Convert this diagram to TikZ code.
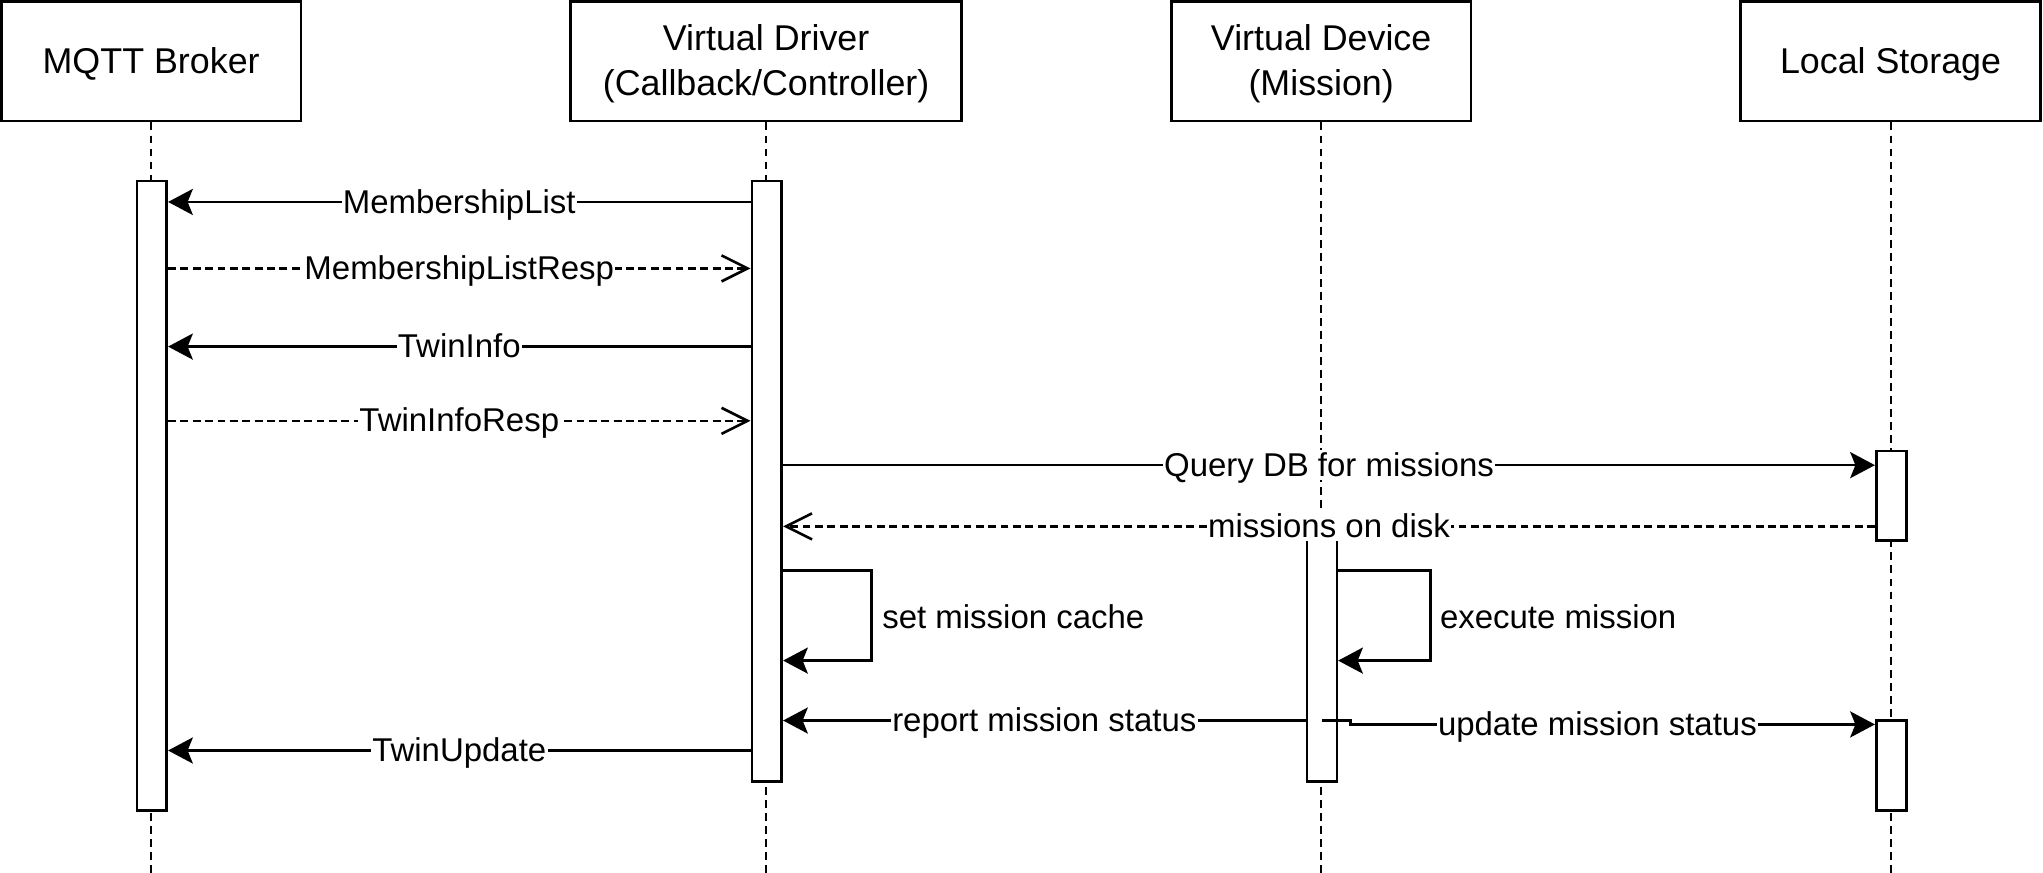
\documentclass[tikz,border=0pt]{standalone}
\usepackage{fontspec}
\setmainfont{Liberation Sans}
\usetikzlibrary{arrows.meta}
\begin{document}
\begin{tikzpicture}[x=1pt,y=-1pt,
  head/.style={draw, line width=2pt, minimum height=92pt, inner sep=0pt},
  headtxt/.style={align=center, inner sep=0pt, font=\fontsize{27.5}{34}\selectfont},
  life/.style={line width=1.5pt, dash pattern=on 6pt off 4pt},
  actbox/.style={draw, fill=white, line width=2pt, minimum width=23pt, inner sep=0pt},
  msg/.style={line width=2pt, -{Stealth[length=19pt,width=20pt,inset=4pt]}},
  reply/.style={line width=2pt, dash pattern=on 6pt off 3.5pt, -{Straight Barb[length=20pt,width=20pt,line width=2pt]}},
  lbl/.style={fill=white, inner xsep=1pt, inner ysep=0pt, text height=20pt, text depth=3pt,
    font=\fontsize{25.3}{30}\selectfont},
  sidelbl/.style={anchor=west, inner sep=0pt, font=\fontsize{25.3}{30}\selectfont}]
\useasboundingbox (0,0) rectangle (1568,670);
% headers
\node[head, minimum width=230pt] (mqtt) at (116,47) {};
\node[head, minimum width=300pt] (driver) at (588,47) {};
\node[head, minimum width=230pt] (device) at (1014,47) {};
\node[head, minimum width=230pt] (storage) at (1451,47) {};
\node[headtxt] (mqttT) at ([yshift=-2pt]mqtt.center) {MQTT Broker};
\node[headtxt] (driverT) at ([yshift=-2pt]driver.center) {Virtual Driver\\(Callback/Controller)};
\node[headtxt] (deviceT) at ([yshift=-2pt]device.center) {Virtual Device\\(Mission)};
\node[headtxt] (storageT) at ([yshift=-2pt]storage.center) {Local Storage};
% lifeline ends
\coordinate (mqttEnd) at (116,672);
\coordinate (driverEnd) at (588,672);
\coordinate (deviceEnd) at (1014,672);
\coordinate (storageEnd) at (1451,672);
\draw[life] (mqtt.south) -- (mqttEnd);
\draw[life] (driver.south) -- (driverEnd);
\draw[life] (device.south) -- (deviceEnd);
\draw[life] (storage.south) -- (storageEnd);
% activations
\node[actbox, minimum height=483pt] (actM) at (116.5,380.5) {};
\node[actbox, minimum height=461pt] (actD) at (588.5,369.5) {};
\node[actbox, minimum height=188pt] (actV) at (1014.5,506) {};
\node[actbox, minimum height=69pt] (actS1) at (1451.5,380.5) {};
\node[actbox, minimum height=69pt] (actS2) at (1451.5,587.5) {};
% message rows
\coordinate (r1) at (0,155);
\coordinate (r2) at (0,206);
\coordinate (r3) at (0,266);
\coordinate (r4) at (0,323);
\coordinate (r5) at (0,357);
\coordinate (r6) at (0,404);
\coordinate (r7a) at (0,438);
\coordinate (r7b) at (0,507);
\coordinate (r8) at (0,553);
\coordinate (r8b) at (0,556);
\coordinate (r9) at (0,576);
\draw[msg] (actD.west |- r1) -- node[lbl] {MembershipList} (actM.east |- r1);
\draw[reply] (actM.east |- r2) -- node[lbl] {MembershipListResp} (actD.west |- r2);
\draw[msg] (actD.west |- r3) -- node[lbl] {TwinInfo} (actM.east |- r3);
\draw[reply] (actM.east |- r4) -- node[lbl] {TwinInfoResp} (actD.west |- r4);
\draw[msg] (actD.east |- r5) -- node[lbl] {Query DB for missions} (actS1.west |- r5);
\draw[reply] (actS1.west |- r6) -- node[lbl] {missions on disk} (actD.east |- r6);
% self calls
\draw[msg] (actD.east |- r7a) -- ++(68,0) |- (actD.east |- r7b);
\node[sidelbl] (cacheLbl) at (677,473) {set mission cache};
\draw[msg] (actV.east |- r7a) -- ++(71,0) |- (actV.east |- r7b);
\node[sidelbl] (execLbl) at (1105,473) {execute mission};
% status
\draw[msg] (actV.west |- r8) -- node[lbl] {report mission status} (actD.east |- r8);
\draw[msg] (actV.center |- r8) -- ++(22,0) -- ++(0,3) -- (actS2.west |- r8b);
\node[lbl] (updLbl) at (1226,556) {update mission status};
\draw[msg] (actD.west |- r9) -- node[lbl] {TwinUpdate} (actM.east |- r9);
\end{tikzpicture}
\end{document}
